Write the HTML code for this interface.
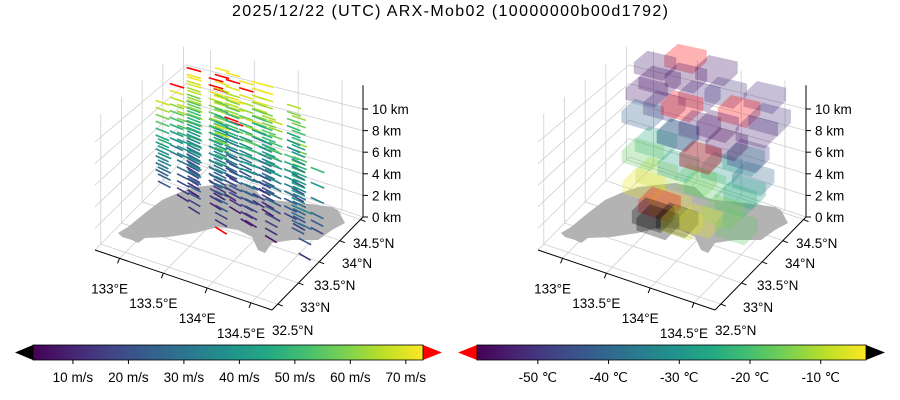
<!DOCTYPE html>
<html><head><meta charset="utf-8"><style>
html,body{margin:0;padding:0;background:#fff;width:900px;height:400px;overflow:hidden}
svg text{font-family:"Liberation Sans",sans-serif;fill:#000}
</style></head><body>
<svg id="root" width="900" height="400" viewBox="0 0 900 400" xmlns="http://www.w3.org/2000/svg">
<defs>
<linearGradient id="vir" x1="0" x2="1" y1="0" y2="0">
<stop offset="0" stop-color="#440154"/><stop offset="0.1" stop-color="#482475"/><stop offset="0.2" stop-color="#414487"/><stop offset="0.3" stop-color="#355f8d"/><stop offset="0.4" stop-color="#2a788e"/><stop offset="0.5" stop-color="#21918c"/><stop offset="0.6" stop-color="#22a884"/><stop offset="0.7" stop-color="#44bf70"/><stop offset="0.8" stop-color="#7ad151"/><stop offset="0.9" stop-color="#bddf26"/><stop offset="1" stop-color="#fde725"/>
</linearGradient>
</defs>
<text x="450" y="16" font-size="16" text-anchor="middle" textLength="436">2025/12/22 (UTC) ARX-Mob02 (10000000b00d1792)</text>
<g id="left"></g>
<g id="right"></g>
<g>
<polygon points="33,345 15,352.5 33,360" fill="#000"/>
<polygon points="423,345 442,352.5 423,360" fill="#f00"/>
<rect x="33" y="345" width="390" height="15" fill="url(#vir)" stroke="#000" stroke-width="0.8"/>
<g id="cb1"></g>
</g>
<g>
<polygon points="477,345 458,352.5 477,360" fill="#f00"/>
<polygon points="866,345 885,352.5 866,360" fill="#000"/>
<rect x="477" y="345" width="389" height="15" fill="url(#vir)" stroke="#000" stroke-width="0.8"/>
<g id="cb2"></g>
</g>
</svg>
<script>
// ---- wind data ----
const profLon = [132.95,133.15,133.3,133.45,133.55,133.7,133.8,133.95,134.1,133.2,133.6,134.3,133.0,134.45,132.85,133.05,133.25,133.4,133.65,133.85,134.05,134.2,133.35,133.75,132.78,132.8,132.9,133.1,133.5,133.9,134.55,134.6];
const profLat = [34.1,34.2,34.0,34.3,33.85,34.1,33.7,33.95,33.55,33.6,33.4,33.8,33.75,33.45,34.3,33.9,34.4,34.05,34.35,34.0,34.3,33.8,33.8,33.7,33.7,34.0,33.5,34.45,34.5,34.5,33.7,33.3];
const levels = [0.5,1.2,1.9,2.6,3.3,4.0,4.7,5.4,6.1,6.8,7.5,8.2,8.9,9.6,10.3,11.0];
const levelDir = [-20,-18,-16,-15,-14,-13,-12,-11,-10,-9,-8,-7,-6,-5,-4,-3];
const speeds = [
[14,18,20,24,28,31,34,38,42,47,52,57,62,66,70,72],
[12,16,21,25,29,33,36,40,44,49,55,60,66,71,76,74],
[10,15,19,23,27,30,35,39,43,48,53,58,63,68,72,78],
[null,null,20,24,28,32,37,41,46,50,56,61,65,70,74,71],
[9,14,18,22,26,30,34,37,41,46,51,56,76,66,69,73],
[11,15,19,23,27,31,35,38,43,47,52,57,62,67,71,null],
[8,13,17,21,25,29,33,37,40,45,50,55,60,64,68,null],
[10,14,18,22,26,30,34,38,42,47,52,58,63,67,null,null],
[7,12,16,20,24,28,32,36,40,44,49,54,59,null,null,null],
[13,17,21,25,29,33,37,41,45,50,55,60,65,69,73,null],
[76,14,18,22,26,30,34,38,42,47,52,57,61,66,70,null],
[null,15,19,23,27,31,35,39,44,48,53,58,63,null,null,null],
[12,16,20,24,28,32,36,40,44,49,54,59,64,68,null,null],
[null,null,null,22,26,30,33,37,41,46,51,56,60,null,null,null],
[11,15,19,23,27,31,35,39,43,48,53,58,63,67,71,75],
[9,13,17,21,25,29,33,37,41,46,51,56,61,65,null,null],
[12,16,20,24,28,32,36,40,45,50,55,60,65,70,74,72],
[10,14,18,22,26,30,34,38,42,47,52,77,62,66,70,null],
[13,17,21,25,29,33,37,41,45,50,55,60,64,69,73,71],
[8,12,16,20,24,28,32,36,40,45,50,55,60,64,null,null],
[null,16,20,24,28,32,36,40,44,49,54,59,63,null,null,null],
[null,null,18,22,26,30,34,38,42,46,51,null,null,null,null,null],
[10,14,18,22,26,30,34,38,42,47,52,57,62,null,null,null],
[9,13,17,21,25,29,33,37,41,46,51,56,null,null,null,null],
[null,null,null,24,28,32,36,40,44,49,54,59,64,68,null,null],
[null,null,null,null,28,32,36,41,46,51,56,61,66,70,74,null],
[null,null,null,22,26,30,34,38,42,47,null,null,null,null,null,null],
[null,null,null,null,null,33,37,41,46,51,56,61,66,71,75,72],
[null,null,null,null,null,null,38,42,47,52,57,62,67,71,73,null],
[null,null,null,null,null,null,36,40,45,50,55,60,65,null,null,null],
[null,null,19,23,27,null,34,null,41,null,50,null,null,null,null,null],
[null,14,null,21,null,29,null,36,null,null,null,null,null,null,null,null]];
const windTicks = [10,20,30,40,50,60,70];
// ---- temperature voxel data ----
const boxLon = [133.3,133.4,133.55,133.05,133.45,133.85,133.7,133.35,133.15,133.55,134.05,134.3,132.95,133.75,134.15,133.05,133.45,133.85,134.25,133.25,133.65,134.05,134.3,132.85,133.35,133.75,134.15,133.05,133.55,133.95,132.85,133.3,133.8,134.2,132.95,133.45,133.95,134.3,132.85,133.25,133.75,134.15,133.15,133.55];
const boxLat = [33.4,33.3,33.45,33.7,33.5,33.4,33.25,33.45,33.8,33.9,33.5,33.3,33.9,33.7,33.6,34.0,33.7,33.9,33.6,34.1,33.8,34.0,33.7,34.1,33.9,33.6,33.9,34.2,34.0,33.8,34.2,34.1,33.9,34.0,34.3,34.2,34.1,34.1,34.4,34.3,34.2,34.3,34.5,34.4];
const boxZ = [0,0,0,1,1,1,1,1,2,2,2,2,3,3,3,4,4,4,4,5,5,5,5,6,6,6,6,7,7,7,8,8,8,8,9,9,9,9,10,10,10,10,11,11];
const boxT = [-1,-2,-2,-5,-4.5,-5,-7,-62,-12,-14,-15,-18,-17,-19,-22,-25,-28,-30,-27,-33,-36,-32,-40,-42,-48,-62,-50,-52,-55,-57,-55,-62,-56,-53,-57,-52,-61,-50,-54,-56,-50,-52,-62,-55];
const tempTicks = [-50,-40,-30,-20,-10];

const NS='http://www.w3.org/2000/svg';
const LON0=132.72, LONR=2.02, LAT0=32.36, LATR=2.2;
function proj(lon,lat,z,dx){
  const u=(lon-LON0)/LONR, v=(lat-LAT0)/LATR;
  return projUV(u,v,z,dx);
}
function projUV(u,v,z,dx){
  const zs=10.8-1.6*(1-u)*v;
  return [95+dx+u*177+v*91, 250+u*60-v*93-z*zs];
}
function el(tag,attrs,parent){
  const e=document.createElementNS(NS,tag);
  for(const k in attrs) e.setAttribute(k,attrs[k]);
  parent.appendChild(e); return e;
}
const VIR=['#440154','#482475','#414487','#355f8d','#2a788e','#21918c','#22a884','#44bf70','#7ad151','#bddf26','#fde725'];
function hx(c){return [parseInt(c.substr(1,2),16),parseInt(c.substr(3,2),16),parseInt(c.substr(5,2),16)];}
function viridis(t){
  t=Math.max(0,Math.min(1,t));const p=t*10,i=Math.min(9,Math.floor(p)),f=p-i;
  const a=hx(VIR[i]),b=hx(VIR[i+1]);
  return 'rgb('+a.map((x,k)=>Math.round(x+(b[k]-x)*f)).join(',')+')';
}
const ISLAND=[[118,233],[128,227],[145,213],[162,200],[178,193],[195,187],[232,183],[252,187],[262,197],[272,200],[302,203],[332,207],[338,210],[345,223],[332,230],[318,240],[292,240],[272,243],[265,253],[258,250],[252,237],[238,230],[218,227],[195,233],[168,237],[145,238],[138,243],[132,240],[122,237]];
const lonTicks=[133,133.5,134,134.5], latTicks=[32.5,33,33.5,34,34.5], zTicks=[0,2,4,6,8,10];
const lonLab=['133°E','133.5°E','134°E','134.5°E'], latLab=['32.5°N','33°N','33.5°N','34°N','34.5°N'];
const latLabPos=[[272,330],[300,307],[314,285],[342,263],[353,243]];
const ZTOP=12.2;

function drawAxes(g,dx){
  const line=(a,b,st,w,name)=>{
    const l=el('line',{x1:a[0],y1:a[1],x2:b[0],y2:b[1],stroke:st,'stroke-width':w},g);
    
    
  };
  const gc='#cfcfcf';
  lonTicks.forEach(lo=>{
    const u=(lo-LON0)/LONR;
    line(projUV(u,0,0,dx),projUV(u,1,0,dx),gc,0.8,'floor-gridline-lon');
    line(projUV(u,1,0,dx),projUV(u,1,ZTOP,dx),gc,0.8,'wall-gridline-lon');
  });
  latTicks.forEach(la=>{
    const v=(la-LAT0)/LATR;
    line(projUV(0,v,0,dx),projUV(1,v,0,dx),gc,0.8,'floor-gridline-lat');
    line(projUV(0,v,0,dx),projUV(0,v,ZTOP,dx),gc,0.8,'wall-gridline-lat');
  });
  zTicks.forEach(z=>{
    line(projUV(0,0,z,dx),projUV(0,1,z,dx),gc,0.8,'wall-gridline-z');
    line(projUV(0,1,z,dx),projUV(1,1,z,dx),gc,0.8,'wall-gridline-z');
  });
  const isl=el('polygon',{points:ISLAND.map(p=>(p[0]+dx)+','+p[1]).join(' '),fill:'#b3b3b3'},g);
  
  
  line(projUV(0,0,0,dx),projUV(1,0,0,dx),'#000',1,'x-axis-line');
  line(projUV(1,0,0,dx),projUV(1,1,0,dx),'#000',1,'y-axis-line');
  line(projUV(1,1,0,dx),projUV(1,1,ZTOP,dx),'#000',1,'z-axis-line');
  lonTicks.forEach((lo,i)=>{
    const p=proj(lo,LAT0,0,dx);
    line(p,[p[0]-2,p[1]+5],'#000',1,'x-tick');
    const t=el('text',{x:p[0]-10,y:p[1]+35,'font-size':13.5,'text-anchor':'middle'},g);
    t.textContent=lonLab[i];
    
    
  });
  latTicks.forEach((la,i)=>{
    const p=proj(LON0+LONR,la,0,dx);
    line(p,[p[0]+5,p[1]+2],'#000',1,'y-tick');
    const t=el('text',{x:latLabPos[i][0]+dx,y:latLabPos[i][1]+5,'font-size':13.5},g);
    t.textContent=latLab[i];
    
    
  });
  zTicks.forEach(z=>{
    const p=projUV(1,1,z,dx);
    line(p,[p[0]+5,p[1]],'#000',1,'z-tick');
    const t=el('text',{x:p[0]+9,y:p[1]+5,'font-size':13.5},g);
    t.textContent=z+' km';
    
    
  });
}
const L=document.getElementById('left'), R=document.getElementById('right');
drawAxes(L,0); drawAxes(R,443);

// wind arrows
const W0=2.8,W1=73.1;
for(let i=0;i<profLon.length;i++){
  for(let j=0;j<levels.length;j++){
    const s=speeds[i][j]; if(s===null) continue;
    const a=levelDir[j]*Math.PI/180;
    const lon=profLon[i], lat=profLat[i], z=levels[j];
    const p0=proj(lon,lat,z,0);
    const p1=proj(lon+0.17*Math.cos(a),lat+0.17*Math.sin(a),z,0);
    const col = s>W1?'#ff0000':(s<W0?'#000':viridis((s-W0)/(W1-W0)));
    const ln=el('line',{x1:p0[0],y1:p0[1],x2:p1[0],y2:p1[1],stroke:col,'stroke-width':1.6},L);
    
    
  }
}
// voxels
const T0=-58.6,T1=-3.6,DL=0.33,DZ=1.2;
const order=boxLon.map((_,i)=>i).sort((a,b)=>{
  const va=boxLat[a],vb=boxLat[b];
  if(vb!==va) return vb-va;
  if(boxLon[a]!==boxLon[b]) return boxLon[a]-boxLon[b];
  return boxZ[a]-boxZ[b];
});
order.forEach(i=>{
  const lo=boxLon[i],la=boxLat[i],z=boxZ[i],t=boxT[i];
  const col = t<T0?'#ff0000':(t>T1?'#000000':viridis((t-T0)/(T1-T0)));
  const P=(a,b,c)=>proj(lo+a*DL,la+b*DL,z+c*DZ,443);
  const faces=[
    [P(0,0,0),P(1,0,0),P(1,0,1),P(0,0,1)],
    [P(1,0,0),P(1,1,0),P(1,1,1),P(1,0,1)],
    [P(0,0,1),P(1,0,1),P(1,1,1),P(0,1,1)]];
  const g=el('g',{},R);
  
  
  faces.forEach(f=>{
    el('polygon',{points:f.map(q=>q.join(',')).join(' '),fill:col,'fill-opacity':0.3},g);
  });
});
// colorbar ticks
const cb1=document.getElementById('cb1'), cb2=document.getElementById('cb2');
windTicks.forEach(v=>{
  const x=33+(v-W0)/(W1-W0)*390;
  el('line',{x1:x,y1:360,x2:x,y2:364,stroke:'#000'},cb1);
  const t=el('text',{x:x,y:382,'font-size':13.5,'text-anchor':'middle'},cb1);
  t.textContent=v+' m/s';
  
  
});
tempTicks.forEach(v=>{
  const x=477+(v-T0)/(T1-T0)*389;
  el('line',{x1:x,y1:360,x2:x,y2:364,stroke:'#000'},cb2);
  const t=el('text',{x:x,y:382,'font-size':13.5,'text-anchor':'middle'},cb2);
  t.textContent=v+' ℃';
  
  
});
</script>
</body></html>
